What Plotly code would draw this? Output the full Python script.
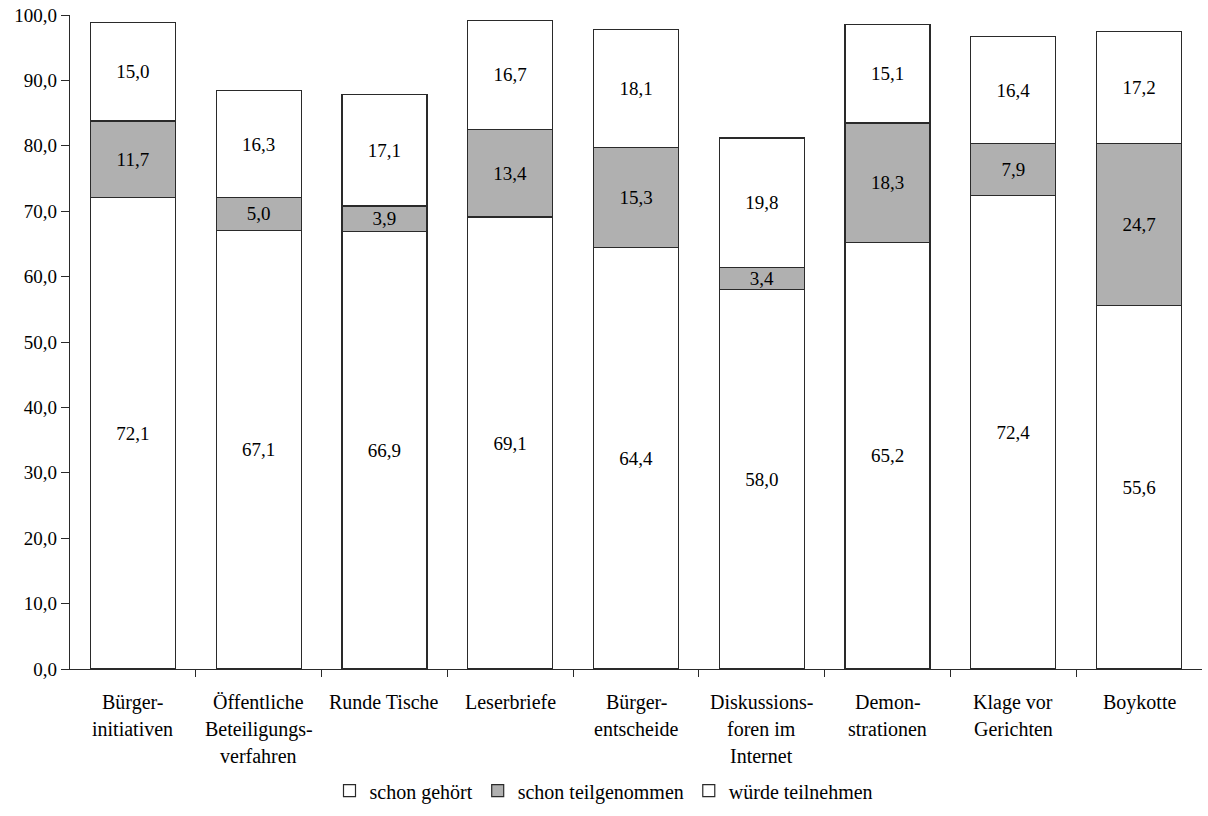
import plotly.graph_objects as go

categories = ["Bürger-|initiativen", "Öffentliche|Beteiligungs-|verfahren", "Runde Tische",
              "Leserbriefe", "Bürger-|entscheide", "Diskussions-|foren im|Internet",
              "Demon-|strationen", "Klage vor|Gerichten", "Boykotte"]
schon_gehoert = [72.1, 67.1, 66.9, 69.1, 64.4, 58.0, 65.2, 72.4, 55.6]
schon_teilgenommen = [11.7, 5.0, 3.9, 13.4, 15.3, 3.4, 18.3, 7.9, 24.7]
wuerde_teilnehmen = [15.0, 16.3, 17.1, 16.7, 18.1, 19.8, 15.1, 16.4, 17.2]
y_ticks = [0, 10, 20, 30, 40, 50, 60, 70, 80, 90, 100]

FONT = "Liberation Serif"
LINE = "#2a2a2a"
x = list(range(len(categories)))

fig = go.Figure()
series = [("schon gehört", schon_gehoert, "white"),
          ("schon teilgenommen", schon_teilgenommen, "#b0b0b0"),
          ("würde teilnehmen", wuerde_teilnehmen, "white")]
for name, vals, col in series:
    fig.add_trace(go.Bar(
        x=x, y=vals, name=name,
        marker=dict(color=col, line=dict(color=LINE, width=1.2)),
        text=[f"{v:.1f}".replace(".", ",") for v in vals],
        textposition="inside", insidetextanchor="middle",
        textfont=dict(family=FONT, size=19, color="black"),
        constraintext="none",
    ))

annotations = []
for i, lab in enumerate(categories):
    for k, line in enumerate(lab.split("|")):
        annotations.append(dict(x=i, y=0, xref="x", yref="y", text=line, showarrow=False,
                                yanchor="top", yshift=-20 - 27 * k,
                                font=dict(family=FONT, size=20, color="black")))

fig.update_layout(
    width=1208, height=816,
    margin=dict(l=70, r=6, t=15, b=147, autoexpand=False),
    barmode="stack", bargap=0.324,
    plot_bgcolor="white", paper_bgcolor="white",
    separators=",.",
    font=dict(family=FONT, size=19, color="black"),
    annotations=annotations,
    legend=dict(orientation="h", xref="container", yref="container",
                x=0.5, xanchor="center", y=0.031, yanchor="middle",
                font=dict(family=FONT, size=20, color="black"),
                itemwidth=30, traceorder="normal"),
    xaxis=dict(range=[-0.5, len(categories) - 0.5], showticklabels=False,
               tickmode="array", tickvals=[i + 0.5 for i in x[:-1]],
               ticks="outside", ticklen=7, tickcolor=LINE, automargin=False,
               showline=True, linecolor=LINE, linewidth=1.2, showgrid=False, zeroline=False),
    yaxis=dict(range=[0, 100], tickvals=y_ticks, tickformat=".1f",
               ticks="outside", ticklen=8, tickcolor=LINE, ticklabeloverflow="allow",
               automargin=False,
               showline=True, linecolor=LINE, linewidth=1.2, showgrid=False, zeroline=False,
               tickfont=dict(family=FONT, size=19, color="black")),
)

fig.write_html("out.html", config={"displayModeBar": False},
               post_script="document.body.style.margin='0';")
